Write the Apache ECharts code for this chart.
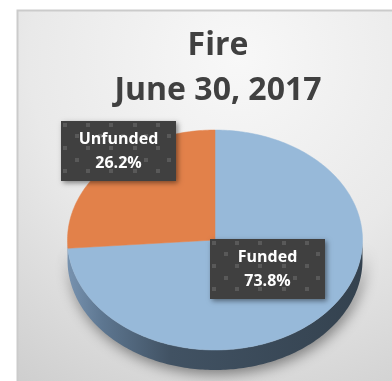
<!DOCTYPE html>
<html>
<head>
<meta charset="utf-8">
<script src="https://cdn.jsdelivr.net/npm/echarts@6/dist/echarts.min.js"></script>
<style>
  html, body { margin: 0; padding: 0; background: #ffffff; }
  #chart { width: 392px; height: 381px; }
</style>
</head>
<body>
<div id="chart"></div>
<script>
// ---- data ----
const categories = ['Funded', 'Unfunded'];
const values = [73.8, 26.2];
const titleLines = ['Fire', 'June 30, 2017'];

// ---- look & layout ----
const sliceColors = ['#97b9d9', '#e2814a'];
const PIE = { cx: 215, cy: 240, rx: 147.5, ry: 110, depth: 20 };
const LABEL_BOX = { w: 115, h: 60 };
// where each label box sits: fraction of the radius along the slice mid-angle, plus a nudge
const labelPlacement = [
  { r: 0.45, dx: 4, dy: -5 },
  { r: 1.0, dx: 12, dy: -14 }
];

const total = values.reduce((a, b) => a + b, 0);
const startAngles = [];
(function () {
  let acc = -Math.PI / 2;
  values.forEach(v => { startAngles.push(acc); acc += v / total * Math.PI * 2; });
})();

function ellipsePt(t, dy) {
  return [PIE.cx + PIE.rx * Math.cos(t), PIE.cy + (dy || 0) + PIE.ry * Math.sin(t)];
}
function arcPoints(a, b, dy) {
  const n = Math.max(2, Math.ceil(Math.abs(b - a) / (Math.PI / 180)));
  const pts = [];
  for (let k = 0; k <= n; k++) pts.push(ellipsePt(a + (b - a) * k / n, dy));
  return pts;
}

// dotted dark tile used behind the data labels
function makeLabelTile(w, h) {
  const c = document.createElement('canvas');
  c.width = w; c.height = h;
  const g = c.getContext('2d');
  g.fillStyle = '#404040';
  g.fillRect(0, 0, w, h);
  g.fillStyle = '#595959';
  const pitch = 11.6;
  for (let row = 0; row * pitch < h + pitch; row++) {
    for (let col = 0; col * pitch < w + pitch; col++) {
      if ((row + col) % 2 === 0) {
        g.fillRect(Math.round(2 + col * pitch), Math.round(1.7 + row * pitch), 4, 4);
      }
    }
  }
  return c;
}
const labelTile = makeLabelTile(LABEL_BOX.w, LABEL_BOX.h);

const sideStops = [
  { offset: 0, color: '#7893b0' },
  { offset: 0.12, color: '#5d7690' },
  { offset: 0.35, color: '#415263' },
  { offset: 1, color: '#34424f' }
];

function renderSlice(params, api) {
  const i = params.dataIndex;
  const v = api.value(1);
  const a = startAngles[i];
  const b = a + v / total * Math.PI * 2;
  const children = [];

  // front wall: the part of the slice's rim that faces the viewer (0..PI, and 2PI..3PI)
  [[0, Math.PI], [2 * Math.PI, 3 * Math.PI]].forEach(([lo, hi]) => {
    const s = Math.max(a, lo), e = Math.min(b, hi);
    if (e > s) {
      const top = arcPoints(s, e, 0);
      const bottom = arcPoints(e, s, PIE.depth);
      children.push({
        type: 'polygon',
        z2: 1,
        shape: { points: top.concat(bottom) },
        style: {
          fill: new echarts.graphic.LinearGradient(
            PIE.cx - PIE.rx, 0, PIE.cx + PIE.rx, 0, sideStops, true),
          shadowBlur: 14,
          shadowColor: 'rgba(0,0,0,0.45)',
          shadowOffsetX: 2,
          shadowOffsetY: 4
        }
      });
    }
  });

  // top face
  children.push({
    type: 'polygon',
    z2: 10,
    shape: { points: [[PIE.cx, PIE.cy]].concat(arcPoints(a, b, 0)) },
    style: { fill: sliceColors[i], stroke: sliceColors[i], lineWidth: 0.5 }
  });

  // data label
  const mid = (a + b) / 2;
  const pl = labelPlacement[i];
  const lx = PIE.cx + PIE.rx * pl.r * Math.cos(mid) + pl.dx;
  const ly = PIE.cy + PIE.ry * pl.r * Math.sin(mid) + pl.dy;
  const bx = Math.round(lx - LABEL_BOX.w / 2);
  const by = Math.round(ly - LABEL_BOX.h / 2);
  children.push({
    type: 'rect',
    z2: 20,
    shape: { x: bx, y: by, width: LABEL_BOX.w, height: LABEL_BOX.h },
    style: {
      fill: '#404040',
      shadowBlur: 5,
      shadowColor: 'rgba(0,0,0,0.45)',
      shadowOffsetX: 2,
      shadowOffsetY: 2
    }
  });
  children.push({
    type: 'image',
    z2: 21,
    style: { image: labelTile, x: bx, y: by, width: LABEL_BOX.w, height: LABEL_BOX.h }
  });
  children.push({
    type: 'text',
    z2: 22,
    x: bx + LABEL_BOX.w / 2,
    y: by + LABEL_BOX.h / 2,
    style: {
      text: categories[i] + '\n' + v.toFixed(1) + '%',
      fill: '#ffffff',
      font: 'bold 16px "Open Sans"',
      align: 'center',
      verticalAlign: 'middle',
      lineHeight: 24
    }
  });

  return { type: 'group', children: children };
}

const chart = echarts.init(document.getElementById('chart'), null, { renderer: 'canvas' });
chart.setOption({
  backgroundColor: '#ffffff',
  animation: false,
  title: {
    text: titleLines.join('\n'),
    left: 213,
    top: 18,
    textAlign: 'center',
    textStyle: {
      fontFamily: 'Open Sans',
      fontWeight: 'bold',
      fontSize: 32,
      lineHeight: 45,
      color: '#404040'
    }
  },
  graphic: [{
    type: 'rect',
    z: -10,
    silent: true,
    shape: { x: 17.5, y: 10.5, width: 400, height: 400 },
    style: {
      fill: new echarts.graphic.RadialGradient(0.55, 0.12, 1.15, [
        { offset: 0, color: '#f8f8f8' },
        { offset: 0.45, color: '#e9e9e9' },
        { offset: 1, color: '#c4c4c4' }
      ]),
      stroke: '#cbcbcb',
      lineWidth: 2
    }
  }],
  series: [{
    type: 'custom',
    coordinateSystem: 'none',
    renderItem: renderSlice,
    data: categories.map((c, i) => [c, values[i]])
  }]
});
</script>
</body>
</html>
